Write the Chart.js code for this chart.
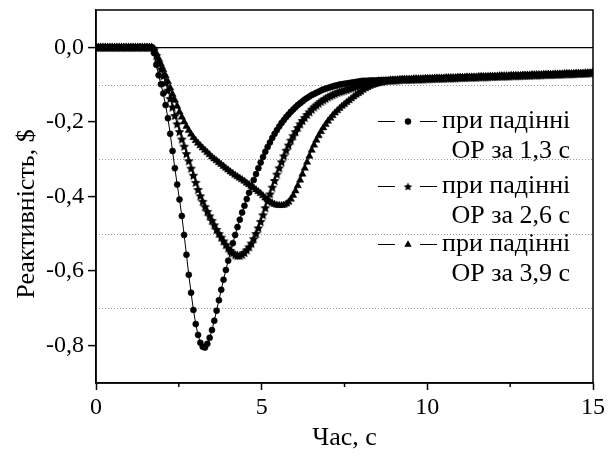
<!DOCTYPE html>
<html>
<head>
<meta charset="utf-8">
<script src="https://cdn.jsdelivr.net/npm/chart.js@4.4.1/dist/chart.umd.min.js"></script>
<style>
  html, body { margin: 0; padding: 0; background: #fff; }
  #wrap { width: 611px; height: 457px; }
</style>
</head>
<body>
<div id="wrap"><canvas id="chart" width="611" height="457"></canvas></div>
<script>
// крок запису, с
const DT = 0.07;

// до 1,7 с реактивність нульова (однаково для всіх трьох кривих)
const flatStart = [0,0,0,0,0,0,0,0,0,0,0,0,0,0,0,0,0,0,0,0,0,0,0,0,0];

// ОР за 1,3 с (t = 1,75 ... 9,24 с)
const drop13 = [
  -0.015,-0.047,-0.075,-0.099,-0.124,-0.155,-0.190,-0.232,-0.278,-0.324,
  -0.368,-0.408,-0.452,-0.503,-0.556,-0.610,-0.658,-0.704,-0.742,-0.771,
  -0.792,-0.803,-0.805,-0.795,-0.779,-0.758,-0.733,-0.706,-0.678,-0.650,
  -0.623,-0.597,-0.572,-0.548,-0.525,-0.503,-0.482,-0.462,-0.443,-0.425,
  -0.407,-0.390,-0.373,-0.356,-0.340,-0.324,-0.309,-0.294,-0.280,-0.267,
  -0.255,-0.243,-0.232,-0.222,-0.212,-0.203,-0.195,-0.187,-0.180,-0.173,
  -0.167,-0.161,-0.155,-0.150,-0.145,-0.140,-0.136,-0.132,-0.128,-0.125,
  -0.122,-0.119,-0.116,-0.113,-0.111,-0.109,-0.107,-0.105,-0.103,-0.102,
  -0.100,-0.099,-0.098,-0.097,-0.096,-0.095,-0.094,-0.093,-0.092,-0.091,
  -0.090,-0.090,-0.090,-0.089,-0.089,-0.089,-0.089,-0.088,-0.088,-0.088,
  -0.088,-0.088,-0.087,-0.087,-0.087,-0.087,-0.087,-0.086
];

// ОР за 2,6 с
const drop26 = [
  -0.006,-0.022,-0.040,-0.058,-0.076,-0.095,-0.115,-0.137,-0.160,-0.183,
  -0.205,-0.226,-0.246,-0.265,-0.285,-0.304,-0.324,-0.343,-0.362,-0.381,
  -0.398,-0.413,-0.427,-0.440,-0.452,-0.464,-0.476,-0.488,-0.499,-0.509,
  -0.519,-0.529,-0.538,-0.545,-0.551,-0.556,-0.558,-0.558,-0.555,-0.550,
  -0.543,-0.535,-0.525,-0.513,-0.499,-0.484,-0.467,-0.449,-0.430,-0.411,
  -0.393,-0.375,-0.357,-0.340,-0.323,-0.307,-0.291,-0.276,-0.262,-0.249,
  -0.237,-0.226,-0.215,-0.205,-0.196,-0.188,-0.180,-0.173,-0.166,-0.160,
  -0.155,-0.150,-0.145,-0.141,-0.137,-0.133,-0.130,-0.127,-0.124,-0.121,
  -0.119,-0.117,-0.115,-0.113,-0.111,-0.109,-0.107,-0.105,-0.103,-0.101,
  -0.100,-0.099,-0.097,-0.096,-0.095,-0.094,-0.093,-0.092,-0.091,-0.090,
  -0.089,-0.089,-0.088,-0.088,-0.088,-0.087,-0.087,-0.086
];

// ОР за 3,9 с
const drop39 = [
  -0.004,-0.016,-0.030,-0.045,-0.060,-0.076,-0.092,-0.109,-0.126,-0.142,
  -0.158,-0.173,-0.187,-0.200,-0.212,-0.223,-0.233,-0.242,-0.250,-0.257,
  -0.264,-0.270,-0.276,-0.282,-0.288,-0.294,-0.299,-0.304,-0.309,-0.314,
  -0.319,-0.324,-0.329,-0.334,-0.338,-0.343,-0.347,-0.351,-0.355,-0.359,
  -0.364,-0.368,-0.372,-0.377,-0.382,-0.387,-0.392,-0.398,-0.404,-0.409,
  -0.414,-0.418,-0.421,-0.423,-0.424,-0.424,-0.423,-0.420,-0.415,-0.407,
  -0.397,-0.385,-0.371,-0.356,-0.340,-0.324,-0.308,-0.292,-0.276,-0.262,
  -0.249,-0.237,-0.226,-0.216,-0.207,-0.198,-0.190,-0.183,-0.176,-0.170,
  -0.164,-0.158,-0.153,-0.148,-0.143,-0.138,-0.133,-0.128,-0.124,-0.120,
  -0.115,-0.111,-0.108,-0.105,-0.102,-0.100,-0.098,-0.096,-0.095,-0.093,
  -0.092,-0.091,-0.090,-0.089,-0.088,-0.088,-0.087,-0.086
];

// після ~9,3 с криві збігаються
const tail = [
  -0.086,-0.086,-0.086,-0.086,
  -0.085,-0.085,-0.085,-0.085,-0.085,
  -0.084,-0.084,-0.084,-0.084,
  -0.083,-0.083,-0.083,-0.083,-0.083,
  -0.082,-0.082,-0.082,-0.082,-0.082,
  -0.081,-0.081,-0.081,-0.081,
  -0.080,-0.080,-0.080,-0.080,-0.080,
  -0.079,-0.079,-0.079,-0.079,-0.079,
  -0.078,-0.078,-0.078,-0.078,
  -0.077,-0.077,-0.077,-0.077,-0.077,
  -0.076,-0.076,-0.076,-0.076,-0.076,
  -0.075,-0.075,-0.075,-0.075,
  -0.074,-0.074,-0.074,-0.074,-0.074,
  -0.073,-0.073,-0.073,-0.073,-0.073,
  -0.072,-0.072,-0.072,-0.072,
  -0.071,-0.071,-0.071,-0.071,-0.071,
  -0.070,-0.070,-0.070,-0.070,
  -0.069,-0.069,-0.069,
  -0.068
];

const seriesLabels = ['ОР за 1,3 с', 'ОР за 2,6 с', 'ОР за 3,9 с'];
const legendHead = 'при падінні';
const xMajor = [0, 5, 10, 15];
const xMinor = [2.5, 7.5, 12.5];
const yMajor = [-0.8, -0.6, -0.4, -0.2, 0];
const yMinor = [-0.7, -0.5, -0.3, -0.1];

const FONT = "'Liberation Serif', 'Times New Roman', serif";

function toPoints(vals) {
  return vals.map((v, i) => ({ x: +(i * DT).toFixed(2), y: v }));
}
const s13 = flatStart.concat(drop13, tail);
const s26 = flatStart.concat(drop26, tail);
const s39 = flatStart.concat(drop39, tail);

// зірочка для маркера
function starImg(r) {
  const c = document.createElement('canvas');
  const s = Math.ceil(r * 2 + 2);
  c.width = c.height = s;
  const g = c.getContext('2d');
  g.translate(s / 2, s / 2 + 0.5);
  g.beginPath();
  for (let k = 0; k < 10; k++) {
    const rr = k % 2 ? r * 0.48 : r;
    const a = -Math.PI / 2 + k * Math.PI / 5;
    g.lineTo(rr * Math.cos(a), rr * Math.sin(a));
  }
  g.closePath();
  g.fillStyle = '#000';
  g.fill();
  return c;
}
const star = starImg(5.2);
const starSmall = starImg(4.4);

function drawMarker(ctx, kind, x, y) {
  ctx.fillStyle = '#000';
  ctx.beginPath();
  if (kind === 0) {
    ctx.arc(x, y, 3.2, 0, Math.PI * 2);
    ctx.fill();
  } else if (kind === 1) {
    ctx.drawImage(starSmall, x - starSmall.width / 2, y - starSmall.height / 2);
  } else {
    const r = 4.3;
    ctx.moveTo(x, y - r);
    ctx.lineTo(x + r * 0.866, y + r * 0.5);
    ctx.lineTo(x - r * 0.866, y + r * 0.5);
    ctx.closePath();
    ctx.fill();
  }
}

const decor = {
  id: 'decor',
  beforeDatasetsDraw(chart) {
    const { ctx, chartArea: a, scales: { y } } = chart;
    ctx.save();
    ctx.strokeStyle = '#9a9a9a';
    ctx.lineWidth = 1;
    ctx.setLineDash([1, 2]);
    yMinor.forEach(v => {
      const py = Math.round(y.getPixelForValue(v)) + 0.5;
      ctx.beginPath();
      ctx.moveTo(a.left, py);
      ctx.lineTo(a.right, py);
      ctx.stroke();
    });
    ctx.restore();
  },
  afterDatasetsDraw(chart) {
    const { ctx, chartArea: a, scales: { x } } = chart;
    ctx.save();
    // рамка
    ctx.strokeStyle = '#000';
    ctx.lineWidth = 1.5;
    ctx.strokeRect(a.left, a.top, a.right - a.left, a.bottom - a.top);
    // дрібні поділки на осі часу
    xMinor.forEach(v => {
      const px = x.getPixelForValue(v);
      ctx.beginPath();
      ctx.moveTo(px, a.bottom);
      ctx.lineTo(px, a.bottom + 4);
      ctx.stroke();
    });

    // легенда
    const rows = [121, 186, 244];
    ctx.font = '26px ' + FONT;
    ctx.textBaseline = 'middle';
    rows.forEach((ry, i) => {
      const ly = Math.round(ry) + 0.5;
      ctx.strokeStyle = '#000';
      ctx.lineWidth = 1;
      ctx.beginPath();
      ctx.moveTo(378, ly); ctx.lineTo(395, ly);
      ctx.moveTo(420, ly); ctx.lineTo(437, ly);
      ctx.stroke();
      drawMarker(ctx, i, 408, ly);
      ctx.fillStyle = '#000';
      ctx.textAlign = 'left';
      ctx.fillText(legendHead, 442, ry);
      ctx.textAlign = 'right';
      ctx.fillText(seriesLabels[i], 570, ry + 30);
    });

    // підпис осі Y
    ctx.translate(27, 214);
    ctx.rotate(-Math.PI / 2);
    ctx.textAlign = 'center';
    ctx.textBaseline = 'middle';
    ctx.fillText('Реактивність, $', 0, 0);
    ctx.restore();
  }
};

const common = {
  borderColor: '#000',
  borderWidth: 1,
  backgroundColor: '#000',
  pointBorderColor: '#000',
  pointBackgroundColor: '#000',
  tension: 0
};

new Chart(document.getElementById('chart').getContext('2d'), {
  type: 'line',
  data: {
    datasets: [
      { ...common, label: seriesLabels[0], data: toPoints(s13), pointStyle: 'circle', pointRadius: 3, pointBorderWidth: 0.6 },
      { ...common, label: seriesLabels[1], data: toPoints(s26), pointStyle: star, pointRadius: 4.5, pointBorderWidth: 0 },
      { ...common, label: seriesLabels[2], data: toPoints(s39), pointStyle: 'triangle', pointRadius: 4.2, pointBorderWidth: 0.5 }
    ]
  },
  options: {
    responsive: false,
    animation: false,
    devicePixelRatio: 1,
    layout: { padding: { top: 10, right: 18, left: 0, bottom: 0 } },
    plugins: { legend: { display: false }, tooltip: { enabled: false } },
    scales: {
      x: {
        type: 'linear',
        min: 0, max: 15,
        afterBuildTicks: s => { s.ticks = xMajor.map(v => ({ value: v })); },
        afterFit: s => { s.height = 74; s.paddingLeft = 0; s.paddingRight = 0; },
        ticks: { color: '#000', font: { family: FONT, size: 24 }, padding: 3, maxRotation: 0 },
        grid: { drawOnChartArea: false, tickLength: 7, tickColor: '#000', tickWidth: 1.5 },
        border: { color: '#000', width: 1.5 },
        title: { display: true, text: 'Час, с', color: '#000', font: { family: FONT, size: 26 }, padding: { top: 0, bottom: 3 } }
      },
      y: {
        min: -0.9, max: 0.1,
        afterBuildTicks: s => { s.ticks = yMajor.map(v => ({ value: v })); },
        afterFit: s => { s.width = 96; s.paddingTop = 0; s.paddingBottom = 0; },
        ticks: {
          color: '#000',
          font: { family: FONT, size: 24 },
          padding: 4,
          callback: v => (Math.abs(v) < 1e-9 ? '0,0' : v.toFixed(1).replace('.', ','))
        },
        grid: {
          color: c => (c.tick && Math.abs(c.tick.value) < 1e-9 ? '#000' : 'rgba(0,0,0,0)'),
          lineWidth: 1.2,
          tickLength: 8,
          tickColor: '#000',
          tickWidth: 1.5
        },
        border: { color: '#000', width: 1.5 }
      }
    }
  },
  plugins: [decor]
});
</script>
</body>
</html>
